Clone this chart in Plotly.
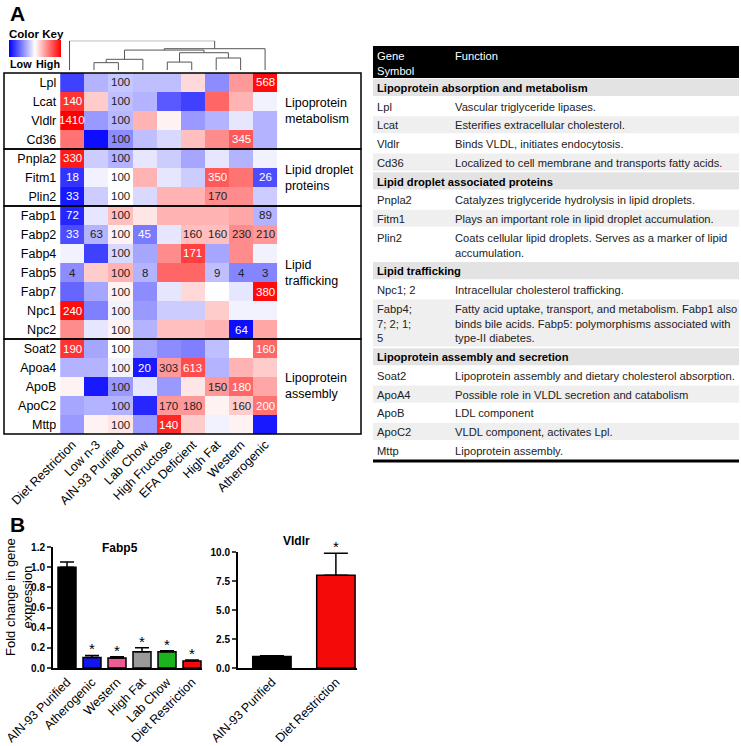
import plotly.graph_objects as go

W, H = 741, 746
FONT = "Liberation Sans"

# ---------------- data: panel A heatmap ----------------
diets = ["Diet Restriction", "Low n-3", "AIN-93 Purified", "Lab Chow", "High Fructose",
         "EFA Deficient", "High Fat", "Western", "Atherogenic"]
genes = ["Lpl", "Lcat", "Vldlr", "Cd36",
         "Pnpla2", "Fitm1", "Plin2",
         "Fabp1", "Fabp2", "Fabp4", "Fabp5", "Fabp7", "Npc1", "Npc2",
         "Soat2", "Apoa4", "ApoB", "ApoC2", "Mttp"]

# relative expression (scaled, -1 = low, +1 = high)
expr_scaled = [
    [-0.75, -0.30, -0.22, -0.25, -0.25, 0.15, -0.45, 0.40, 0.95],
    [0.80, 0.20, -0.25, -0.30, -0.65, -0.75, 0.60, 0.30, -0.05],
    [1.00, -0.40, -0.28, 0.30, 0.05, -0.40, -0.30, -0.10, -0.30],
    [0.55, -0.95, -0.45, -0.25, -0.15, 0.25, 0.45, 0.65, -0.30],
    [0.90, -0.20, -0.30, -0.10, -0.20, -0.35, -0.10, -0.30, -0.05],
    [-0.80, -0.05, 0.00, 0.30, -0.10, -0.20, 0.65, 0.55, -0.70],
    [-0.90, -0.20, 0.00, -0.15, 0.30, 0.30, 0.45, 0.45, -0.20],
    [-0.85, -0.10, 0.25, 0.10, 0.30, 0.30, 0.30, 0.35, -0.30],
    [-0.70, -0.30, 0.05, -0.52, -0.10, 0.25, 0.25, 0.45, 0.40],
    [-0.05, -0.75, -0.15, -0.35, 0.45, 0.75, -0.35, 0.45, -0.05],
    [-0.45, 0.20, 0.30, -0.30, 0.60, 0.60, -0.25, -0.48, -0.48],
    [-0.60, -0.35, 0.05, -0.45, -0.10, 0.15, 0.00, -0.10, 0.95],
    [0.95, -0.50, -0.05, -0.40, -0.20, -0.20, 0.20, -0.05, -0.05],
    [0.45, -0.10, 0.05, -0.30, 0.25, 0.25, 0.30, -0.95, 0.35],
    [0.80, -0.35, 0.00, -0.35, -0.45, -0.50, -0.25, 0.00, 0.60],
    [-0.30, -0.30, -0.05, -0.90, 0.40, 0.70, -0.30, 0.30, 0.20],
    [0.05, -0.90, -0.40, -0.10, -0.40, 0.10, 0.40, 0.60, 0.35],
    [-0.35, -0.30, -0.30, -0.85, 0.40, 0.40, 0.05, 0.20, 0.55],
    [-0.40, 0.05, 0.10, -0.40, 0.85, 0.20, -0.05, 0.05, -0.90],
]

# percent of AIN-93 printed in cells ("" = not printed)
cell_labels = [
    ["", "", "100", "", "", "", "", "", "568"],
    ["140", "", "100", "", "", "", "", "", ""],
    ["1410", "", "100", "", "", "", "", "", ""],
    ["", "", "100", "", "", "", "", "345", ""],
    ["330", "", "100", "", "", "", "", "", ""],
    ["18", "", "100", "", "", "", "350", "", "26"],
    ["33", "", "100", "", "", "", "170", "", ""],
    ["72", "", "100", "", "", "", "", "", "89"],
    ["33", "63", "100", "45", "", "160", "160", "230", "210"],
    ["", "", "100", "", "", "171", "", "", ""],
    ["4", "", "100", "8", "", "", "9", "4", "3"],
    ["", "", "100", "", "", "", "", "", "380"],
    ["240", "", "100", "", "", "", "", "", ""],
    ["", "", "100", "", "", "", "", "64", ""],
    ["190", "", "100", "", "", "", "", "", "160"],
    ["", "", "100", "20", "303", "613", "", "", ""],
    ["", "", "100", "", "", "", "150", "180", ""],
    ["", "", "100", "", "170", "180", "", "160", "200"],
    ["", "", "100", "", "140", "", "", "", ""],
]

gene_groups = [("Lipoprotein<br>metabolism", 4), ("Lipid droplet<br>proteins", 3),
               ("Lipid<br>trafficking", 7), ("Lipoprotein<br>assembly", 5)]

# dendrogram merges (left id, right id, height); leaves 0-8, new clusters 9, 10, ...
dendro_merges = [(1, 2, 0.25), (9, 3, 0.365), (4, 5, 0.27), (6, 7, 0.41),
                 (11, 12, 0.59), (10, 13, 0.68), (14, 8, 0.727), (0, 15, 1.0)]

# ---------------- data: table ----------------
table_header = ["Gene<br>Symbol", "Function"]
table_sections = [
    ("Lipoprotein absorption and metabolism", [
        ("Lpl", "Vascular triglyceride lipases."),
        ("Lcat", "Esterifies extracellular cholesterol."),
        ("Vldlr", "Binds VLDL, initiates endocytosis."),
        ("Cd36", "Localized to cell membrane and transports fatty acids."),
    ]),
    ("Lipid droplet associated proteins", [
        ("Pnpla2", "Catalyzes triglyceride hydrolysis in lipid droplets."),
        ("Fitm1", "Plays an important role in lipid droplet accumulation."),
        ("Plin2", "Coats cellular lipid droplets. Serves as a marker of lipid<br>accumulation."),
    ]),
    ("Lipid trafficking", [
        ("Npc1; 2", "Intracellular cholesterol trafficking."),
        ("Fabp4;<br>7; 2; 1;<br>5", "Fatty acid uptake, transport, and metabolism. Fabp1 also<br>"
                                   "binds bile acids. Fabp5: polymorphisms associated with<br>type-II diabetes."),
    ]),
    ("Lipoprotein assembly and secretion", [
        ("Soat2", "Lipoprotein assembly and dietary cholesterol absorption."),
        ("ApoA4", "Possible role in VLDL secretion and catabolism"),
        ("ApoB", "LDL component"),
        ("ApoC2", "VLDL component, activates Lpl."),
        ("Mttp", "Lipoprotein assembly."),
    ]),
]

# ---------------- data: panel B bars ----------------
fabp5_groups = ["AIN-93 Purified", "Atherogenic", "Western", "High Fat", "Lab Chow", "Diet Restriction"]
fabp5_mean = [1.00, 0.105, 0.10, 0.16, 0.16, 0.07]
fabp5_err = [0.05, 0.02, 0.012, 0.04, 0.01, 0.01]
fabp5_sig = [False, True, True, True, True, True]
fabp5_colors = ["#000000", "#1414f0", "#ec5b91", "#9a9a9a", "#1db31d", "#f50a0a"]

vldlr_groups = ["AIN-93 Purified", "Diet Restriction"]
vldlr_mean = [1.0, 8.0]
vldlr_err = [0.05, 1.9]
vldlr_sig = [False, True]
vldlr_colors = ["#000000", "#f50a0a"]


def fx(p):
    return p / W


def fy(p):
    return 1 - p / H


def txt(x, y, text, size=11.5, color="black", xanchor="center", yanchor="middle", **kw):
    d = dict(x=fx(x), y=fy(y), xref="paper", yref="paper", text=text, showarrow=False,
             xanchor=xanchor, yanchor=yanchor, font=dict(family=FONT, size=size, color=color))
    d.update(kw)
    return d


fig = go.Figure()

# heatmap
fig.add_trace(go.Heatmap(
    z=expr_scaled, x=diets, y=genes, zmin=-1, zmax=1,
    colorscale=[[0, "#0000ff"], [0.5, "#ffffff"], [1, "#ff0000"]],
    xaxis="x", yaxis="y", hoverinfo="skip",
    colorbar=dict(orientation="h", x=fx(9), xanchor="left", y=fy(40.5), yanchor="top",
                  len=52, lenmode="pixels", thickness=17, xpad=0, ypad=0,
                  outlinewidth=0, showticklabels=False, ticks=""),
))

# dendrogram from merges
node_x = {i: i for i in range(len(diets))}
node_h = {i: 0.0 for i in range(len(diets))}
dx, dy = [], []
for k, (a, b, h) in enumerate(dendro_merges):
    dx += [node_x[a], node_x[a], node_x[b], node_x[b], None]
    dy += [node_h[a], h, h, node_h[b], None]
    node_x[len(diets) + k] = (node_x[a] + node_x[b]) / 2
    node_h[len(diets) + k] = h
fig.add_trace(go.Scatter(x=dx, y=dy, mode="lines", line=dict(color="#555555", width=1),
                         xaxis="x2", yaxis="y2", hoverinfo="skip", showlegend=False))

# panel B bars
fig.add_trace(go.Bar(
    x=fabp5_groups, y=fabp5_mean, marker=dict(color=fabp5_colors, line=dict(color="black", width=1.5)),
    width=0.72, error_y=dict(type="data", array=fabp5_err, arrayminus=[0] * len(fabp5_err),
                             symmetric=False, color="black", thickness=1.5, width=7),
    xaxis="x4", yaxis="y4", showlegend=False))
fig.add_trace(go.Bar(
    x=vldlr_groups, y=vldlr_mean, marker=dict(color=vldlr_colors, line=dict(color="black", width=1.5)),
    width=0.6, error_y=dict(type="data", array=vldlr_err, arrayminus=[0] * len(vldlr_err),
                            symmetric=False, color="black", thickness=1.5, width=12),
    xaxis="x5", yaxis="y5", showlegend=False))

shapes, annotations = [], []

# cell labels
for r, g in enumerate(genes):
    for c, d in enumerate(diets):
        if cell_labels[r][c]:
            col = "white" if abs(expr_scaled[r][c]) > 0.5 else "#222222"
            annotations.append(dict(x=d, y=g, xref="x", yref="y", text=cell_labels[r][c],
                                    xanchor="center", yanchor="middle", showarrow=False,
                                    font=dict(family=FONT, size=11.5, color=col)))

# group boxes and labels
top, row_h = 73, (434 - 73) / len(genes)
start = 0
for label, n in gene_groups:
    y0 = top + start * row_h
    y1 = top + (start + n) * row_h
    shapes.append(dict(type="rect", xref="paper", yref="paper", x0=fx(4), x1=fx(361),
                       y0=fy(y1), y1=fy(y0), line=dict(color="black", width=1.5)))
    annotations.append(txt(283, (y0 + y1) / 2, label, size=12.5, xanchor="left", align="left"))
    start += n

# color key text and panel titles
annotations += [
    txt(36, 34, "<b>Color Key</b>"),
    txt(8, 64, "<b>Low</b>", size=10.8, xanchor="left"),
    txt(62, 64, "<b>High</b>", size=10.8, xanchor="right"),
    txt(8, 13, "<b>A</b>", size=21, xanchor="left"),
    txt(8, 524, "<b>B</b>", size=21, xanchor="left"),
    txt(120, 548, "<b>Fabp5</b>", size=12),
    txt(296, 541, "<b>Vldlr</b>", size=12),
    txt(19, 597, "Fold change in gene<br>expression", size=13, textangle=-90),
]

# asterisks
for grp, m, e, s in zip(fabp5_groups, fabp5_mean, fabp5_err, fabp5_sig):
    if s:
        annotations.append(dict(x=grp, y=m + e, xref="x4", yref="y4", text="*", showarrow=False,
                                xanchor="center", yanchor="bottom", yshift=-4,
                                font=dict(family=FONT, size=15, color="black")))
for grp, m, e, s in zip(vldlr_groups, vldlr_mean, vldlr_err, vldlr_sig):
    if s:
        annotations.append(dict(x=grp, y=m + e, xref="x5", yref="y5", text="*", showarrow=False,
                                xanchor="center", yanchor="bottom", yshift=-4,
                                font=dict(family=FONT, size=15, color="black")))

# table
tx0, tx1, col2 = 373, 739, 453
shapes.append(dict(type="rect", xref="paper", yref="paper", x0=fx(tx0), x1=fx(tx1),
                   y0=fy(78), y1=fy(46), fillcolor="black", line=dict(width=0)))
annotations.append(txt(375, 48, table_header[0], size=11.2, color="white", xanchor="left",
                       yanchor="top", align="left"))
annotations.append(txt(col2, 48, table_header[1], size=11.2, color="white", xanchor="left",
                       yanchor="top", align="left"))
ypos = 78
for title, rows in table_sections:
    items = [(None, title)] + rows
    for i, (gene, func) in enumerate(items):
        nlines = max(func.count("<br>"), (gene or "").count("<br>")) + 1
        rh = 18.7 + 15 * (nlines - 1)
        if gene is None:
            fill = "#e3e3e3"
        else:
            fill = "#ffffff" if i % 2 == 1 else "#efefef"
        shapes.append(dict(type="rect", xref="paper", yref="paper", x0=fx(tx0), x1=fx(tx1),
                           y0=fy(ypos + rh - 0.8), y1=fy(ypos + 0.8), fillcolor=fill, line=dict(width=0),
                           layer="below"))
        if gene is None:
            annotations.append(txt(375, ypos + 2, "<b>" + func + "</b>", size=11.2, xanchor="left",
                                   yanchor="top", align="left"))
        else:
            for xp, t in ((375, gene), (col2, func)):
                annotations.append(txt(xp, ypos + 2, t, size=11.2, color="#222222", xanchor="left",
                                       yanchor="top", align="left"))
        ypos += rh
shapes.append(dict(type="line", xref="paper", yref="paper", x0=fx(tx0), x1=fx(tx1),
                   y0=fy(ypos + 1.5), y1=fy(ypos + 1.5), line=dict(color="black", width=3)))

bold_ticks = dict(size=10, family=FONT, weight="bold")
fig.update_layout(
    width=W, height=H, margin=dict(l=0, r=0, t=0, b=0, autoexpand=False),
    paper_bgcolor="white", plot_bgcolor="white", showlegend=False,
    font=dict(family=FONT, size=12.5, color="black"),
    shapes=shapes, annotations=annotations,
    xaxis=dict(domain=[fx(57.3), fx(277.3)], tickangle=-45, showgrid=False, ticks="",
               tickfont=dict(size=12.5), showline=False, zeroline=False, automargin=False),
    yaxis=dict(domain=[fy(434), fy(73)], autorange="reversed", showgrid=False, ticks="",
               tickfont=dict(size=12.5), zeroline=False, automargin=False),
    xaxis2=dict(domain=[fx(57.3), fx(277.3)], range=[-0.5, 8.5], visible=False, automargin=False),
    yaxis2=dict(domain=[fy(70), fy(40.7)], range=[0, 1], visible=False, automargin=False),
    xaxis4=dict(domain=[fx(53), fx(202)], range=[-0.56, 5.4], tickangle=-45, showline=True,
                linecolor="black", linewidth=2, ticks="", tickfont=dict(size=12.5), anchor="y4",
                automargin=False),
    yaxis4=dict(domain=[fy(668), fy(547)], range=[0, 1.2], dtick=0.2, tickformat=".1f",
                showline=True, linecolor="black", linewidth=2, ticks="outside", ticklen=4,
                tickwidth=2, showgrid=False, zeroline=False, anchor="x4", automargin=False,
                tickfont=bold_ticks),
    xaxis5=dict(domain=[fx(238), fx(357)], range=[-0.53, 1.33], tickangle=-45, showline=True,
                linecolor="black", linewidth=2, ticks="", tickfont=dict(size=12.5), anchor="y5",
                automargin=False),
    yaxis5=dict(domain=[fy(668), fy(552)], range=[0, 10], dtick=2.5, tickformat=".1f",
                showline=True, linecolor="black", linewidth=2, ticks="outside", ticklen=4,
                tickwidth=2, showgrid=False, zeroline=False, anchor="x5", automargin=False,
                tickfont=bold_ticks),
)

fig.write_html("out.html", config={"displayModeBar": False},
               post_script="document.body.style.margin='0px';")
